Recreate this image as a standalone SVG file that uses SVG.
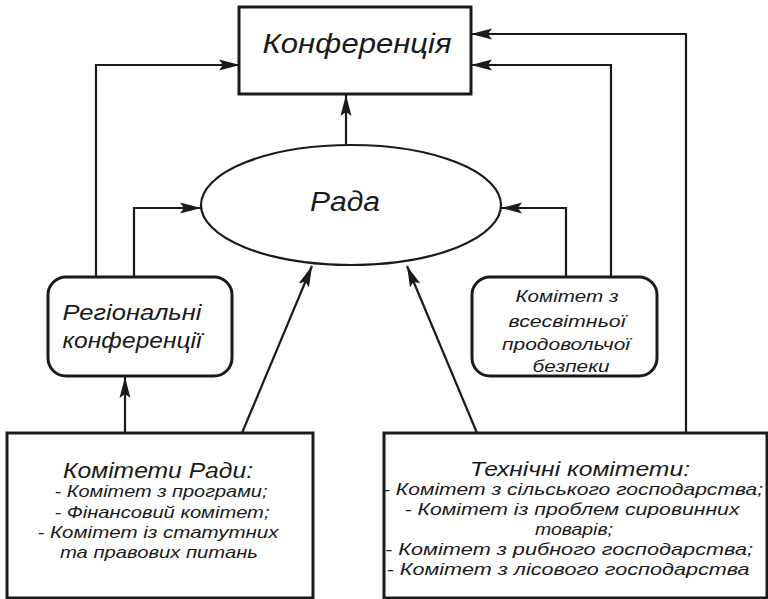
<svg xmlns="http://www.w3.org/2000/svg" width="768" height="599" viewBox="0 0 768 599">
<style>
.box{fill:#fff;stroke:#1a1a1a;stroke-width:3}
.ell{fill:#fff;stroke:#1a1a1a;stroke-width:2.2}
.t{font-family:"Liberation Sans",Arial,sans-serif;font-style:italic;fill:#1a1a1a;text-anchor:middle}
.c{fill:none;stroke:#1a1a1a;stroke-width:2.2}
</style>
<defs>
<marker id="ah" markerUnits="userSpaceOnUse" markerWidth="24" markerHeight="12" refX="21" refY="6" orient="auto">
<path d="M0,0.5 L21,6 L0,11.5 L4,6 z" fill="#1a1a1a"/>
</marker>
</defs>
<g id="connectors">
<path class="c" d="M96,277 V65 H240" marker-end="url(#ah)"/>
<path class="c" d="M134,277 V208 H201" marker-end="url(#ah)"/>
<path class="c" d="M125,433 V377" marker-end="url(#ah)"/>
<path class="c" d="M242,433 L312,266" marker-end="url(#ah)"/>
<path class="c" d="M477,433 L407,266" marker-end="url(#ah)"/>
<path class="c" d="M346,145 V95" marker-end="url(#ah)"/>
<path class="c" d="M611,277 V65 H471" marker-end="url(#ah)"/>
<path class="c" d="M566,277 V208 H501" marker-end="url(#ah)"/>
<path class="c" d="M686,433 V34 H471" marker-end="url(#ah)"/>
</g>
<g id="konferentsiia">
<rect class="box" x="239" y="7" width="232" height="87"/>
<text class="t" x="357" y="53" font-size="28" textLength="189" lengthAdjust="spacingAndGlyphs">Конференція</text>
</g>
<g id="rada">
<ellipse class="ell" cx="351" cy="205" rx="150" ry="60"/>
<text class="t" x="345" y="211" font-size="27" textLength="70" lengthAdjust="spacingAndGlyphs">Рада</text>
</g>
<g id="regionalni">
<rect class="box" x="48" y="277" width="184" height="99" rx="18" ry="18"/>
<text class="t" x="132" y="320" font-size="22" textLength="139" lengthAdjust="spacingAndGlyphs">Регіональні</text>
<text class="t" x="132" y="348" font-size="22" textLength="139" lengthAdjust="spacingAndGlyphs">конференції</text>
</g>
<g id="bezpeka">
<rect class="box" x="472" y="277" width="185" height="99" rx="18" ry="18"/>
<text class="t" x="567" y="302" font-size="17" textLength="103" lengthAdjust="spacingAndGlyphs">Комітет з</text>
<text class="t" x="567" y="327" font-size="17" textLength="117" lengthAdjust="spacingAndGlyphs">всесвітньої</text>
<text class="t" x="566" y="350" font-size="17" textLength="128" lengthAdjust="spacingAndGlyphs">продовольчої</text>
<text class="t" x="571" y="372" font-size="17" textLength="77" lengthAdjust="spacingAndGlyphs">безпеки</text>
</g>
<g id="komitety-rady">
<rect class="box" x="7" y="433" width="306" height="165"/>
<text class="t" x="158" y="478" font-size="22" textLength="190" lengthAdjust="spacingAndGlyphs">Комітети Ради:</text>
<text class="t" x="161" y="497" font-size="17" textLength="213" lengthAdjust="spacingAndGlyphs">- Комітет з програми;</text>
<text class="t" x="162" y="518" font-size="17" textLength="215" lengthAdjust="spacingAndGlyphs">- Фінансовий комітет;</text>
<text class="t" x="158" y="538" font-size="17" textLength="241" lengthAdjust="spacingAndGlyphs">- Комітет із статутних</text>
<text class="t" x="159" y="558" font-size="17" textLength="198" lengthAdjust="spacingAndGlyphs">та правових питань</text>
</g>
<g id="tekhnichni">
<rect class="box" x="384" y="433" width="383" height="165"/>
<text class="t" x="580" y="476" font-size="21" textLength="220" lengthAdjust="spacingAndGlyphs">Технічні комітети:</text>
<text class="t" x="573" y="495" font-size="17" textLength="380" lengthAdjust="spacingAndGlyphs">- Комітет з сільського господарства;</text>
<text class="t" x="572" y="515" font-size="17" textLength="335" lengthAdjust="spacingAndGlyphs">- Комітет із проблем сировинних</text>
<text class="t" x="574" y="535" font-size="17" textLength="78" lengthAdjust="spacingAndGlyphs">товарів;</text>
<text class="t" x="569" y="555" font-size="17" textLength="368" lengthAdjust="spacingAndGlyphs">- Комітет з рибного господарства;</text>
<text class="t" x="568" y="575" font-size="17" textLength="363" lengthAdjust="spacingAndGlyphs">- Комітет з лісового господарства</text>
</g>
</svg>
